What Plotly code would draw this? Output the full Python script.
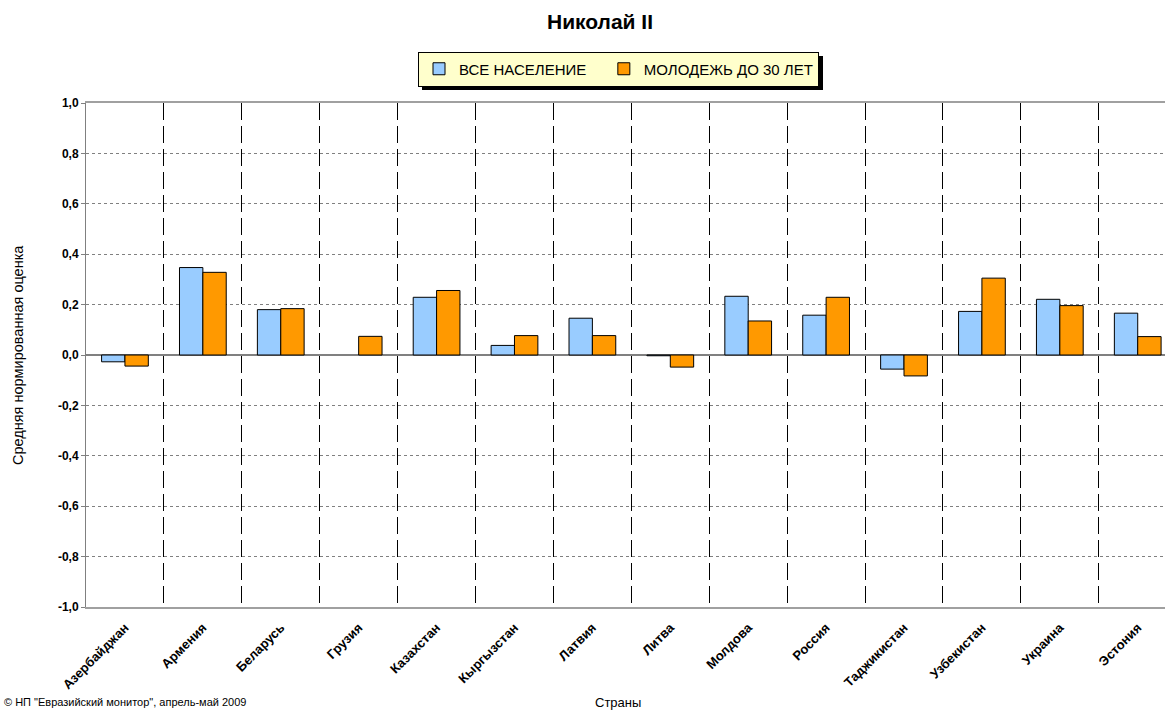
import plotly.graph_objects as go

countries = ["Азербайджан", "Армения", "Беларусь", "Грузия", "Казахстан", "Кыргызстан",
             "Латвия", "Литва", "Молдова", "Россия", "Таджикистан", "Узбекистан",
             "Украина", "Эстония"]
all_pop = [-0.027, 0.347, 0.180, None, 0.229, 0.038, 0.146, -0.003, 0.233, 0.158,
           -0.056, 0.173, 0.221, 0.166]
youth = [-0.044, 0.328, 0.184, 0.074, 0.256, 0.077, 0.077, -0.048, 0.135, 0.229,
         -0.083, 0.305, 0.196, 0.073]
ytick_vals = [-1.0, -0.8, -0.6, -0.4, -0.2, 0.0, 0.2, 0.4, 0.6, 0.8, 1.0]
ytick_text = ["-1,0", "-0,8", "-0,6", "-0,4", "-0,2", "0,0", "0,2", "0,4", "0,6", "0,8", "1,0"]

W, H = 1165, 711
ML, MR, MT, MB = 86, 0, 103, 104
pw = W - ML - MR
ph = H - MT - MB

def px_x(x):
    return (x - ML) / pw

def px_y(y):
    return (H - MB - y) / ph

font = "Liberation Sans, Arial, sans-serif"

fig = go.Figure()
fig.add_trace(go.Bar(x=countries, y=all_pop, name="ВСЕ НАСЕЛЕНИЕ\u00a0\u00a0\u00a0",
                     marker=dict(color="#99CCFF", line=dict(color="#000000", width=1))))
fig.add_trace(go.Bar(x=countries, y=youth, name="МОЛОДЕЖЬ ДО 30 ЛЕТ",
                     marker=dict(color="#FF9900", line=dict(color="#000000", width=1))))

# legend drop shadow (decoration)
LX0, LX1, LY0, LY1 = 418, 819, 52, 86
fig.add_shape(type="rect", xref="paper", yref="paper",
              x0=px_x(LX0 + 4), x1=px_x(LX1 + 4), y0=px_y(LY1 + 4), y1=px_y(LY0 + 4),
              fillcolor="#000000", line=dict(width=0), layer="above")

fig.update_layout(
    width=W, height=H,
    margin=dict(l=ML, r=MR, t=MT, b=MB, pad=0),
    paper_bgcolor="white", plot_bgcolor="white",
    barmode="group", bargap=0.4, bargroupgap=0,
    font=dict(family=font, size=11, color="#000000"),
    title=dict(text="<b>Николай II</b>", x=600 / W, xanchor="center",
               y=1 - 22 / H, yanchor="middle", font=dict(size=21, family=font)),
    showlegend=True,
    legend=dict(orientation="h", xref="container", yref="container",
                x=LX0 / W, xanchor="left", y=1 - 69 / H, yanchor="middle",
                bgcolor="#FFFFCC", bordercolor="#000000", borderwidth=1,
                font=dict(size=15, family=font), itemwidth=30,
                traceorder="normal"),
    xaxis=dict(type="category", range=[-0.5, 13.35], tickson="boundaries",
               showgrid=True, gridcolor="#000000", gridwidth=1, griddash="17px,6px",
               showline=True, linecolor="#A0A0A0", linewidth=2, mirror=True,
               ticks="", tickangle=-45, ticklabelstandoff=6,
               tickfont=dict(size=13, family=font, weight="bold")),
    yaxis=dict(range=[-1, 1], tickvals=ytick_vals, ticktext=ytick_text,
               showgrid=True, gridcolor="#808080", gridwidth=1, griddash="dot",
               zeroline=True, zerolinecolor="#808080", zerolinewidth=2,
               showline=True, linecolor="#808080", linewidth=1,
               ticks="outside", ticklen=4, tickcolor="#808080",
               tickfont=dict(size=12, family=font, weight="bold")),
    annotations=[
        dict(text="Средняя нормированная оценка", xref="paper", yref="paper",
             x=px_x(18), y=0.5, textangle=-90, showarrow=False,
             xanchor="center", yanchor="middle", font=dict(size=14.5, family=font)),
        dict(text="Страны", xref="paper", yref="paper",
             x=px_x(618), y=px_y(702), showarrow=False,
             xanchor="center", yanchor="middle", font=dict(size=13, family=font)),
        dict(text="© НП \"Евразийский монитор\", апрель-май 2009", xref="paper", yref="paper",
             x=px_x(2), y=px_y(702), showarrow=False,
             xanchor="left", yanchor="middle", font=dict(size=11, family=font)),
    ],
)

fig.write_html("out.html", config={"displayModeBar": False},
               post_script="document.body.style.margin='0';document.body.style.overflow='hidden';")
